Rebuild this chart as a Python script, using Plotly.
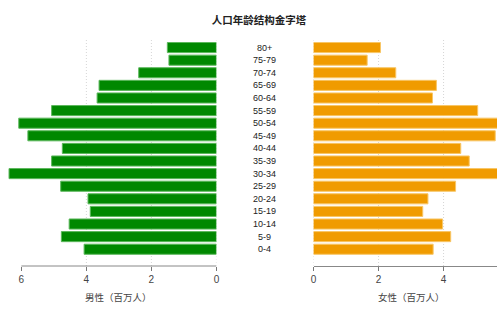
import plotly.graph_objects as go

ages = ["0-4", "5-9", "10-14", "15-19", "20-24", "25-29", "30-34", "35-39",
        "40-44", "45-49", "50-54", "55-59", "60-64", "65-69", "70-74", "75-79", "80+"]
male = [4.07, 4.77, 4.53, 3.88, 3.95, 4.79, 6.38, 5.07, 4.74, 5.80, 6.08, 5.07,
        3.67, 3.61, 2.39, 1.46, 1.51]
female = [3.68, 4.22, 3.97, 3.36, 3.52, 4.37, 6.20, 4.79, 4.53, 5.59, 6.00, 5.05,
          3.66, 3.78, 2.53, 1.65, 2.06]
tick_vals_left = [0, 2, 4, 6]
tick_vals_right = [0, 2, 4]
grid_vals = [0, 2, 4]

title = "人口年龄结构金字塔"
male_title = "男性（百万人）"
female_title = "女性（百万人）"

font = "Noto Sans CJK SC, Liberation Sans, Arial, sans-serif"
latin = "Liberation Sans, Arial, sans-serif"
idx = list(range(len(ages)))

fig = go.Figure()
fig.add_trace(go.Bar(
    x=male, y=idx, orientation="h", xaxis="x", yaxis="y",
    marker=dict(color="#008800", line=dict(color="#5cb85c", width=1)),
    showlegend=False, hoverinfo="x+text", text=ages, textposition="none",
))
fig.add_trace(go.Bar(
    x=female, y=idx, orientation="h", xaxis="x2", yaxis="y2",
    marker=dict(color="#f09b00", line=dict(color="#f8c666", width=1)),
    showlegend=False, hoverinfo="x+text", text=ages, textposition="none",
))

W, H = 500, 314
l_zero_px = 216
r_zero_px = 314.3
px_per_unit = 32.9
yr = [-1.33, 16.6]

common_axis = dict(
    showgrid=False, zeroline=False, ticks="outside", ticklen=4,
    tickcolor="#777", tickwidth=1,
    tickfont=dict(family=latin, size=10, color="#444"),
    fixedrange=True,
)

fig.update_layout(
    width=W, height=H,
    margin=dict(l=0, r=0, t=40, b=48),
    paper_bgcolor="white", plot_bgcolor="white",
    bargap=0.2,
    xaxis=dict(domain=[0, l_zero_px / W], range=[l_zero_px / px_per_unit, 0],
               tickvals=tick_vals_left, showline=False, **common_axis),
    xaxis2=dict(domain=[r_zero_px / W, 1], range=[0, (W - r_zero_px) / px_per_unit],
                tickvals=tick_vals_right, showline=True, linecolor="#888",
                linewidth=1, anchor="y2", **common_axis),
    yaxis=dict(range=yr, visible=False, fixedrange=True),
    yaxis2=dict(range=yr, visible=False, anchor="x2", matches="y", fixedrange=True),
    title=dict(text="<b>" + title + "</b>", x=259 / W, xanchor="center",
               y=1 - 20 / H, yanchor="middle",
               font=dict(family=font, size=10.5, color="#222")),
)

shapes = []
# left axis line spanning the tick range
shapes.append(dict(type="line", xref="x", yref="y domain",
                   x0=tick_vals_left[0], x1=tick_vals_left[-1], y0=0, y1=0,
                   line=dict(color="#888", width=1)))
for g in grid_vals:
    shapes.append(dict(type="line", xref="x", yref="y domain", x0=g, x1=g, y0=0, y1=1,
                       layer="below", line=dict(color="#d6d6d6", width=1, dash="1px,2px")))
    shapes.append(dict(type="line", xref="x2", yref="y2 domain", x0=g, x1=g, y0=0, y1=1,
                       layer="below", line=dict(color="#d6d6d6", width=1, dash="1px,2px")))
fig.update_layout(shapes=shapes)

ann = []
center_x = (l_zero_px + r_zero_px) / 2 / W
for i, a in zip(idx, ages):
    ann.append(dict(text=a, x=center_x, xref="paper", y=i, yref="y",
                    showarrow=False, xanchor="center", yanchor="middle",
                    font=dict(family=latin, size=9, color="#222")))
ann.append(dict(text=male_title, x=3, xref="x", y=-31 / 226, yref="paper",
                showarrow=False, xanchor="center", yanchor="middle",
                font=dict(family=font, size=9.5, color="#444")))
ann.append(dict(text=female_title, x=3, xref="x2", y=-31 / 226, yref="paper",
                showarrow=False, xanchor="center", yanchor="middle",
                font=dict(family=font, size=9.5, color="#444")))
fig.update_layout(annotations=ann)

fig.write_html("out.html", config={"displayModeBar": False})
